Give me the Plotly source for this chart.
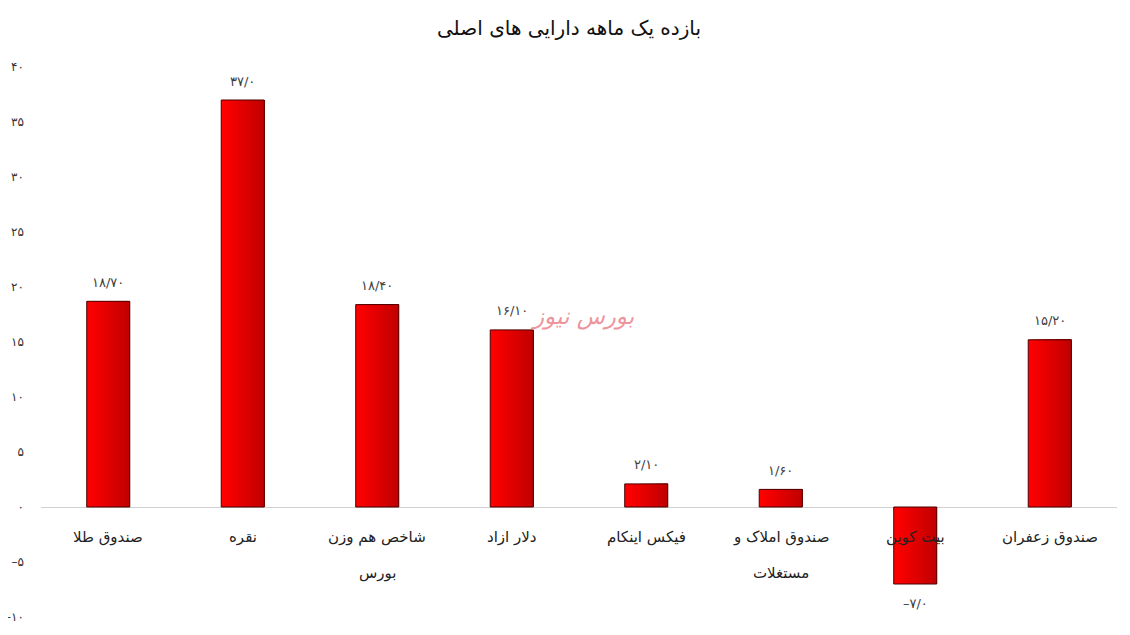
import plotly.graph_objects as go

categories = ["صندوق طلا", "نقره", "شاخص هم وزن<br>بورس", "دلار ازاد", "فیکس اینکام",
              "صندوق املاک و<br>مستغلات", "بیت کوین", "صندوق زعفران"]
values = [18.7, 37.0, 18.4, 16.1, 2.1, 1.6, -7.0, 15.2]
value_labels = ["۱۸/۷۰", "۳۷/۰", "۱۸/۴۰", "۱۶/۱۰", "۲/۱۰", "۱/۶۰", "–۷/۰", "۱۵/۲۰"]
tick_values = [-10, -5, 0, 5, 10, 15, 20, 25, 30, 35, 40]
tick_labels = ["–۱۰", "–۵", "۰", "۵", "۱۰", "۱۵", "۲۰", "۲۵", "۳۰", "۳۵", "۴۰"]
title = "بازده یک ماهه دارایی های اصلی"
watermark = "بورس نیوز"

FONT = "DejaVu Sans"
xs = list(range(len(categories)))
BAR_W = 0.32
N_STRIPES = 12

fig = go.Figure()
# horizontal gradient: bright red on the left, darker red on the right
for k in range(N_STRIPES):
    t = k / (N_STRIPES - 1)
    r = int(255 - t * 60)
    fig.add_trace(go.Bar(
        x=xs, y=values, width=BAR_W - k * BAR_W / N_STRIPES,
        offset=-BAR_W / 2 + k * BAR_W / N_STRIPES,
        marker=dict(color=f"rgb({r},0,0)", line=dict(width=0)),
        hoverinfo="skip",
    ))
# outline
fig.add_trace(go.Bar(
    x=xs, y=values, width=BAR_W, offset=-BAR_W / 2,
    marker=dict(color="rgba(0,0,0,0)", line=dict(color="#4a0000", width=1)),
    hoverinfo="skip",
))

annotations = []
for i, lab in enumerate(categories):
    for j, line in enumerate(lab.split("<br>")):
        annotations.append(dict(
            x=xs[i], y=0, xref="x", yref="y", text=line, showarrow=False,
            yanchor="middle", yshift=-30 - 36 * j,
            font=dict(family=FONT, size=15, color="#222222"),
        ))
for i, v in enumerate(values):
    annotations.append(dict(
        x=xs[i], y=v, xref="x", yref="y", text=value_labels[i], showarrow=False,
        yanchor="middle", yshift=19 if v >= 0 else -19,
        font=dict(family=FONT, size=13, color="#404040"),
    ))
annotations.append(dict(
    x=0.503, y=17.3, xref="paper", yref="y", text=watermark, showarrow=False,
    yanchor="middle",
    font=dict(family=FONT, size=23, color="rgba(232,120,130,0.8)", style="italic"),
))

fig.update_layout(
    width=1122, height=627,
    margin=dict(l=33, r=13, t=59, b=18),
    paper_bgcolor="white", plot_bgcolor="white",
    barmode="overlay",
    title=dict(text=title, x=0.5, xanchor="center", y=0.968, yanchor="middle",
               font=dict(family=FONT, size=20, color="#111111")),
    showlegend=False,
    annotations=annotations,
    xaxis=dict(range=[-0.5, len(categories) - 0.5], showticklabels=False,
               showgrid=False, zeroline=False, showline=False, ticks=""),
    yaxis=dict(range=[-10, 40], tickvals=tick_values, ticktext=tick_labels,
               showgrid=False, zeroline=True, zerolinecolor="#d0d0d0", zerolinewidth=1,
               showline=False, ticks="", ticklabelstandoff=16, automargin=False,
               tickfont=dict(family=FONT, size=12, color="#333333")),
)

fig.write_html("out.html")
